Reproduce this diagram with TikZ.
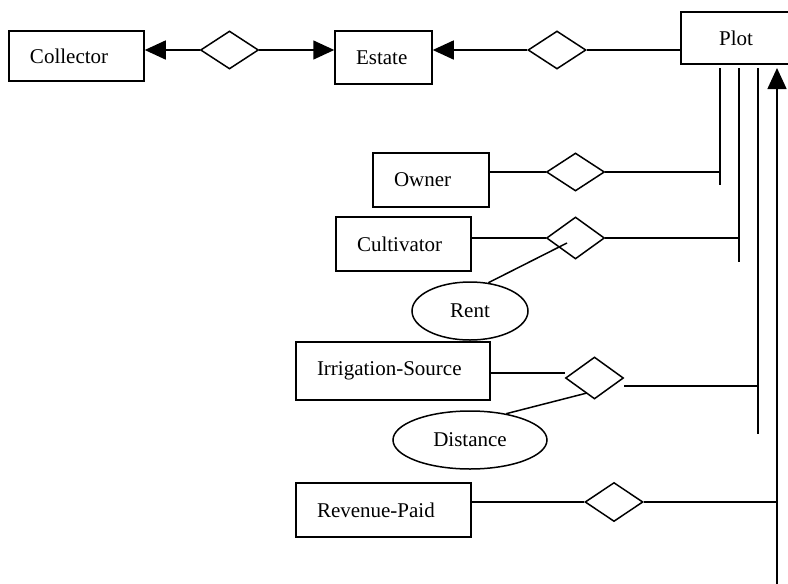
\documentclass[tikz,border=0pt]{standalone}
\usepackage{fontspec}
\setmainfont{Liberation Serif}
\usetikzlibrary{arrows.meta,shapes.geometric}

\begin{document}
\begin{tikzpicture}[x=1pt,y=-1pt,line width=1.5pt,
        every node/.style={font=\fontsize{21}{25}\selectfont},
        entity/.style={draw, rectangle, inner xsep=21pt, inner ysep=0pt, align=left},
        rel/.style={draw, diamond, inner sep=0pt, minimum width=58pt, minimum height=39pt},
        attr/.style={draw, ellipse, inner sep=0pt, minimum height=58pt},
        tip/.style={-{Triangle[length=21pt,width=19pt]}}]
        \useasboundingbox (0,0) rectangle (788,584);

        \node[entity, text width=93pt, minimum height=50pt] (col) at (76.5,56) {Collector};
        \node[entity, text width=55pt, minimum height=53pt] (est) at (383.5,57.5) {Estate};
        \node[entity, text width=68pt, minimum height=52pt, align=center] (plot) at (736,38) {Plot};
        \node[entity, text width=74pt, minimum height=54pt] (own) at (431,180) {Owner};
        \node[entity, text width=93pt, minimum height=54pt] (cult) at (403.5,244) {Cultivator};
        \node[entity, text width=152pt, minimum height=58pt] (irr) at (393,371) {Irrigation-Source};
        \node[entity, text width=133pt, minimum height=54pt] (rev) at (383.5,510) {Revenue-Paid};

        \node[rel, minimum height=38pt] (r1) at (229.5,50) {};
        \node[rel, minimum height=38pt] (r2) at (557,50) {};
        \node[rel, minimum height=38pt] (r3) at (575.5,172) {};
        \node[rel, minimum height=42pt] (r4) at (575.5,238) {};
        \node[rel, minimum height=42pt] (r5) at (594.5,378) {};
        \node[rel] (r6) at (614,502) {};

        \node[attr, minimum width=116pt] (rent) at (470,311) {Rent};
        \node[attr, minimum width=154pt] (dist) at (470,440) {Distance};

        % lines hanging below the plot box
        \coordinate (top1) at (720,68);
        \coordinate (bot1) at (720,185);
        \coordinate (top2) at (739,68);
        \coordinate (bot2) at (739,262);
        \coordinate (top3) at (758,68);
        \coordinate (bot3) at (758,434);
        \coordinate (top4) at (777,68);
        \coordinate (bot4) at (777,584);
        \coordinate (rentlink) at (567,243);
        \coordinate (distlink) at (587,393);

        \draw[tip] (r1.west) -- (r1.west -| col.east);
        \draw[tip] (r1.east) -- (r1.east -| est.west);
        \draw[tip] (r2.west) -- (r2.west -| est.east);
        \draw (r2.east) -- (r2.east -| plot.west);

        \draw (top1) -- (bot1);
        \draw (top2) -- (bot2);
        \draw (top3) -- (bot3);
        \draw[tip] (bot4) -- (top4);

        \draw (r3.west) -- (r3.west -| own.east);
        \draw (r3.east) -- (r3.east -| top1);
        \draw (r4.west) -- (r4.west -| cult.east);
        \draw (r4.east) -- (r4.east -| top2);
        \draw ([yshift=5pt]r5.west) -- ([yshift=5pt]r5.west -| irr.east);
        \draw ([yshift=-8pt]r5.east) -- ([yshift=-8pt]r5.east -| top3);
        \draw (r6.west) -- (r6.west -| rev.east);
        \draw (r6.east) -- (r6.east -| top4);

        \draw (rent.57) -- (rentlink);
        \draw (dist.36) -- (distlink);
    \end{tikzpicture}
\end{document}
